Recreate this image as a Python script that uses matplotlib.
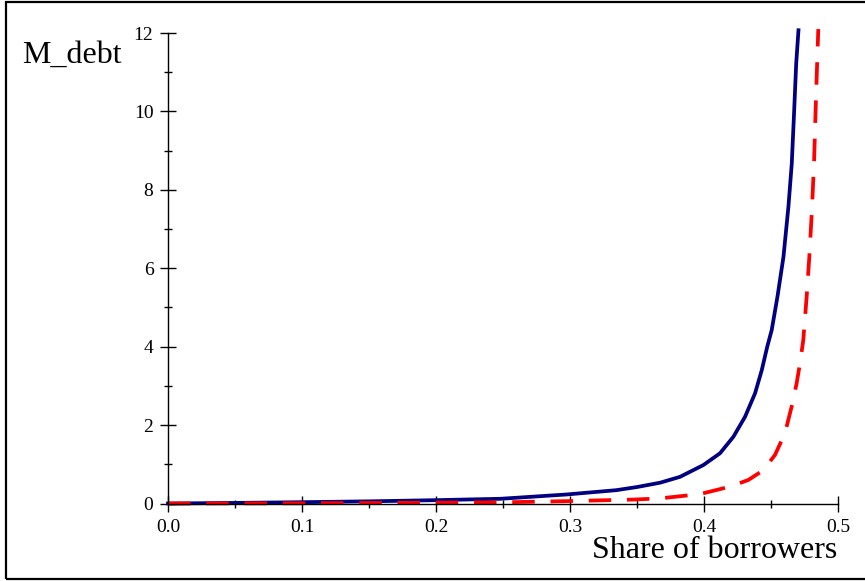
import matplotlib
matplotlib.use("Agg")
import matplotlib.pyplot as plt
from matplotlib.patches import Rectangle
from matplotlib.ticker import MultipleLocator, FormatStrFormatter

# values
share_blue = [0.0, 0.05, 0.099, 0.15, 0.198, 0.248, 0.2974, 0.3346, 0.35, 0.3672, 0.3821,
              0.3995, 0.4119, 0.4219, 0.4306, 0.4381, 0.4431, 0.4472, 0.4505, 0.4548,
              0.4593, 0.463, 0.4655, 0.4672, 0.4688, 0.4705]
debt_blue = [0.0, 0.015, 0.033, 0.055, 0.084, 0.12, 0.23, 0.34, 0.42, 0.53, 0.68,
             0.98, 1.28, 1.70, 2.21, 2.81, 3.40, 4.00, 4.42, 5.27,
             6.29, 7.57, 8.67, 9.95, 11.22, 12.07]

share_red = [0.0, 0.1, 0.198, 0.248, 0.2974, 0.347, 0.3672, 0.397, 0.4194, 0.4331, 0.4443,
             0.453, 0.4604, 0.4654, 0.4691, 0.4716, 0.4741, 0.4766, 0.4786, 0.4804,
             0.4821, 0.4836, 0.4853]
debt_red = [0.0, 0.005, 0.02, 0.03, 0.06, 0.10, 0.13, 0.24, 0.43, 0.60, 0.85,
            1.24, 1.79, 2.47, 3.06, 3.57, 4.17, 5.27, 6.29, 7.40,
            8.67, 10.37, 12.1]

plt.rcParams['font.family'] = ['Liberation Serif', 'DejaVu Serif']

fig = plt.figure(figsize=(8.65, 5.81), dpi=100)
ax = fig.add_axes([168/865, 77.5/581, 670/865, 470.5/581])

ax.plot(share_blue, debt_blue, color='#000080', lw=2.7, clip_on=False)
ax.plot(share_red, debt_red, color='#ff0000', lw=2.7, dashes=(6, 4.2), clip_on=False)

ax.set_xlim(0, 0.5)
ax.set_ylim(0, 12)
ax.spines['top'].set_visible(False)
ax.spines['right'].set_visible(False)
ax.spines['left'].set_linewidth(1.0)
ax.spines['bottom'].set_linewidth(1.0)

ax.xaxis.set_major_locator(MultipleLocator(0.1))
ax.xaxis.set_minor_locator(MultipleLocator(0.05))
ax.yaxis.set_major_locator(MultipleLocator(2))
ax.yaxis.set_minor_locator(MultipleLocator(1))
ax.xaxis.set_major_formatter(FormatStrFormatter('%.1f'))
ax.yaxis.set_major_formatter(FormatStrFormatter('%d'))
ax.tick_params(which='major', direction='inout', length=11, width=1, labelsize=14)
ax.tick_params(which='minor', direction='inout', length=5.5, width=1)
ax.tick_params(axis='x', which='major', pad=6)
ax.tick_params(axis='y', which='major', pad=5)

fig.text(22/865, 1 - 63/581, "M_debt", fontsize=23, va='baseline', ha='left')
fig.text(837/865, 1 - 558/581, "Share of borrowers", fontsize=23, va='baseline', ha='right')

fig.patches.append(Rectangle((6/865, 2/581), 1.0, 577/581, transform=fig.transFigure,
                             fill=False, edgecolor='black', lw=1.6))

plt.savefig("out.png", dpi=100)
